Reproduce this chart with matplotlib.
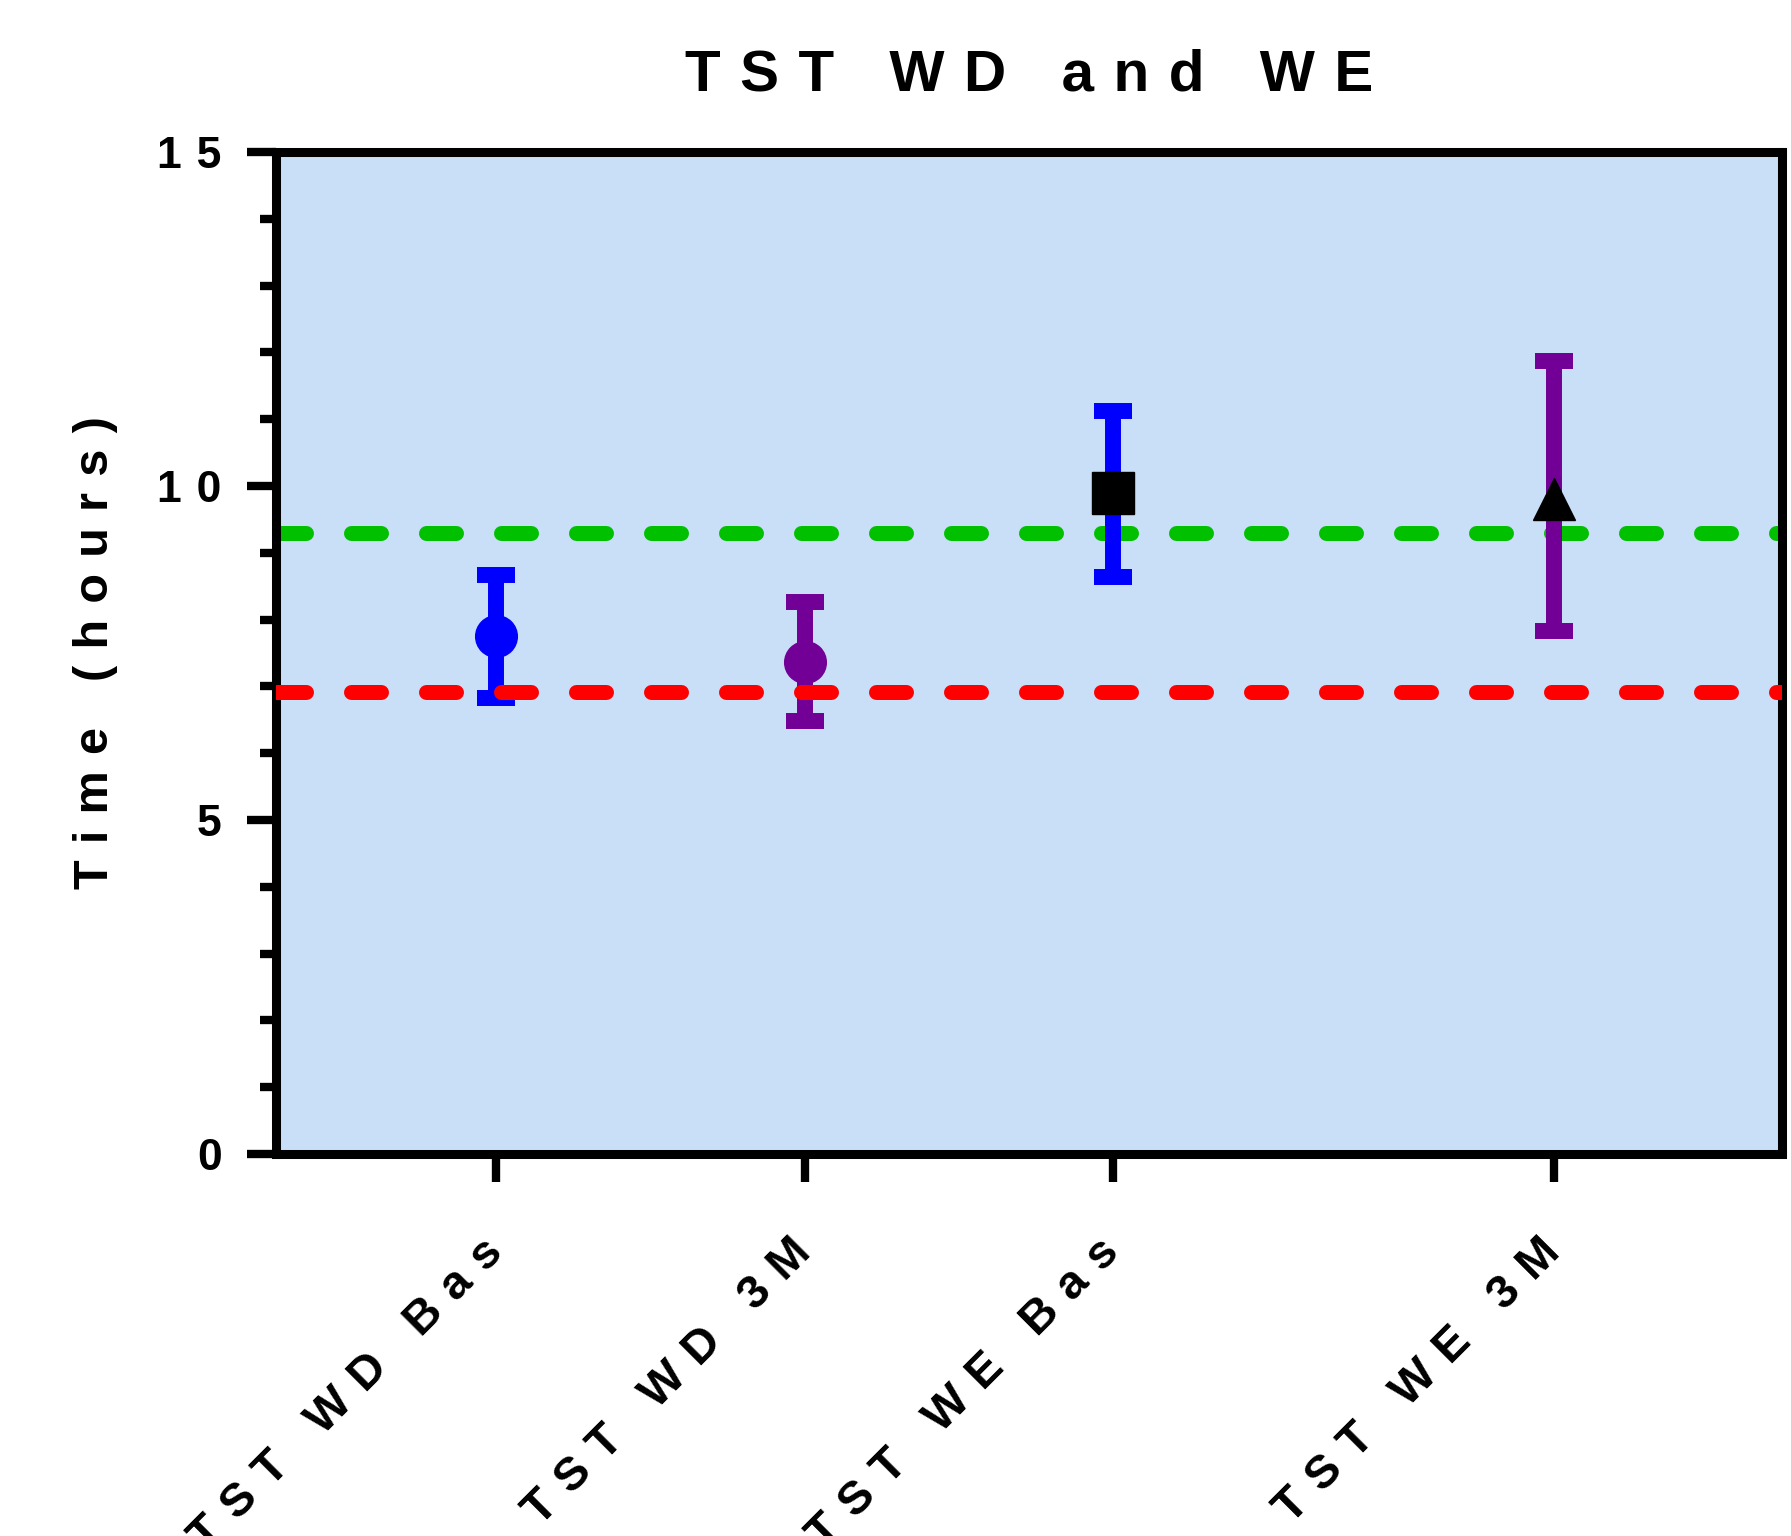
import numpy as np
import matplotlib
matplotlib.use("Agg")
import matplotlib.pyplot as plt
from matplotlib.ticker import MultipleLocator

# data
labels = ["TST WD Bas", "TST WD 3M", "TST WE Bas", "TST WE 3M"]
xpos = [1, 2, 3, 4.43]
means = [7.76, 7.37, 9.89, 9.80]
err_lo = [0.94, 0.89, 1.25, 1.97]
err_hi = [0.91, 0.89, 1.23, 2.07]
markers = ["o", "o", "s", "^"]
bar_colors = ["#0000FF", "#720096", "#0000FF", "#720096"]
mark_colors = ["#0000FF", "#720096", "#000000", "#000000"]
green_ref = 9.30
red_ref = 6.91
yticks = [0, 5, 10, 15]


def spaced(s):
    # wide letter spacing like the original (three-per-em space between letters)
    sep = "\u2004"
    words = [sep.join(list(w)) for w in s.split(" ")]
    return (sep + " " + sep).join(words)


plt.rcParams['font.family'] = ['Liberation Sans', 'DejaVu Sans']
plt.rcParams['font.weight'] = 'bold'

fig = plt.figure(figsize=(17.91, 15.36), dpi=100)
ax = fig.add_axes([0.154, 0.2487, 0.841, 0.6523])
ax.set_facecolor("#C9DEF7")

# reference lines
ax.axhline(green_ref, color="#00C000", lw=10.8, dashes=(2, 3),
           dash_capstyle="round", zorder=1)
ax.axhline(red_ref, color="#FF0000", lw=10.8, dashes=(2, 3),
           dash_capstyle="round", zorder=3)

for i in range(len(labels)):
    ax.errorbar(xpos[i], means[i], yerr=[[err_lo[i]], [err_hi[i]]],
                fmt="none", ecolor=bar_colors[i], elinewidth=11.5,
                capsize=13.5, capthick=11.5, zorder=2)
    ax.plot(xpos[i], means[i], marker=markers[i], color=mark_colors[i],
            markersize=30, linestyle="none", zorder=2.5)

ax.set_xlim(0.285, 5.17)
ax.set_ylim(0, 15)
ax.set_yticks(yticks)
ax.set_yticklabels([spaced(str(v)) for v in yticks], fontsize=32,
                   fontweight="bold")
ax.yaxis.set_minor_locator(MultipleLocator(1))
ax.set_xticks(xpos)
ax.set_xticklabels([spaced(l) for l in labels], rotation=45, ha="right",
                   va="center", rotation_mode="anchor", fontsize=34,
                   fontweight="bold")

ax.tick_params(axis="y", which="major", length=21, width=6, pad=18)
ax.tick_params(axis="y", which="minor", length=11.5, width=6)
ax.tick_params(axis="x", which="major", length=20, width=6, pad=46)
for s in ax.spines.values():
    s.set_linewidth(6.5)

ax.set_ylabel(spaced("Time (hours)"), fontsize=35, fontweight="bold")
ax.yaxis.set_label_coords(-0.105, 0.5)
ax.set_title(spaced("TST WD and WE"), fontsize=42, fontweight="bold", pad=44)

fig.savefig("out.png", dpi=100)
